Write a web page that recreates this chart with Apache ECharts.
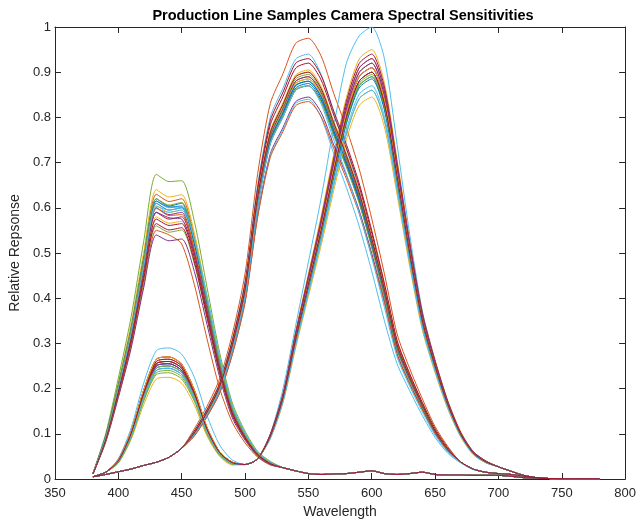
<!DOCTYPE html>
<html>
<head>
<meta charset="utf-8">
<script src="https://cdn.jsdelivr.net/npm/echarts@6/dist/echarts.min.js"></script>
<style>html,body{margin:0;padding:0;background:#fff}#c{width:639px;height:524px}</style>
</head>
<body>
<div id="c"></div>
<script>
const wavelengths = [380,390,400,410,420,430,440,450,460,470,480,490,500,510,520,530,540,550,560,570,580,590,600,610,620,630,640,650,660,670,680,690,700,710,720,730,740,750,760,770,780];
const xTicks = {min:350, max:800, step:50};
const yTicks = {min:0, max:1, step:0.1};

// Red channel curves (one per sample)
const R01 = [.005,.015,.039,.098,.186,.25,.255,.24,.186,.108,.057,.035,.032,.045,.094,.178,.307,.425,.544,.672,.791,.87,.89,.821,.663,.494,.346,.247,.163,.099,.057,.038,.027,.017,.008,.003,.001,0,0,0,0];
const R02 = [.005,.015,.041,.102,.194,.26,.265,.25,.194,.112,.059,.037,.032,.045,.097,.184,.317,.44,.562,.695,.818,.899,.92,.848,.685,.511,.358,.256,.169,.102,.059,.039,.027,.017,.008,.003,.001,0,0,0,0];
const R03 = [.005,.015,.035,.087,.164,.221,.225,.212,.164,.095,.05,.031,.032,.045,.1,.19,.327,.454,.581,.718,.844,.929,.95,.876,.707,.528,.37,.264,.174,.106,.061,.04,.027,.017,.008,.003,.001,0,0,0,0];
const R04 = [.005,.015,.039,.098,.186,.25,.255,.24,.186,.108,.057,.035,.032,.045,.096,.182,.313,.435,.556,.688,.809,.89,.91,.839,.677,.506,.354,.253,.167,.101,.059,.038,.027,.017,.008,.003,.001,0,0,0,0];
const R05 = [.005,.015,.036,.09,.172,.231,.235,.221,.172,.099,.052,.033,.032,.045,.091,.172,.296,.411,.526,.65,.764,.841,.86,.793,.64,.478,.334,.239,.158,.096,.055,.036,.027,.017,.008,.003,.001,0,0,0,0];
const R06 = [.005,.015,.045,.112,.212,.284,.29,.276,.225,.14,.075,.042,.032,.045,.1,.2,.34,.48,.62,.78,.92,.98,1.0,.93,.74,.54,.37,.26,.17,.1,.058,.038,.027,.017,.008,.003,.001,0,0,0,0];
const R07 = [.005,.015,.041,.102,.194,.26,.265,.25,.194,.112,.059,.037,.032,.045,.099,.188,.324,.449,.574,.71,.836,.919,.94,.867,.7,.522,.366,.261,.172,.104,.061,.04,.027,.017,.008,.003,.001,0,0,0,0];
const R08 = [.005,.015,.038,.094,.179,.24,.245,.231,.179,.104,.055,.034,.032,.045,.095,.18,.31,.43,.55,.68,.8,.88,.9,.83,.67,.5,.35,.25,.165,.1,.058,.038,.027,.017,.008,.003,.001,0,0,0,0];
const R09 = [.005,.015,.042,.104,.197,.265,.27,.254,.197,.114,.06,.037,.032,.045,.098,.186,.32,.444,.568,.703,.827,.909,.93,.858,.692,.517,.362,.258,.17,.103,.06,.039,.027,.017,.008,.003,.001,0,0,0,0];
const R10 = [.005,.015,.04,.1,.19,.255,.26,.245,.19,.11,.058,.036,.032,.045,.089,.169,.291,.404,.516,.638,.751,.826,.845,.779,.629,.47,.329,.235,.155,.094,.054,.036,.027,.017,.008,.003,.001,0,0,0,0];
const R11 = [.005,.015,.038,.096,.183,.245,.25,.236,.183,.106,.056,.035,.032,.045,.097,.184,.317,.44,.562,.695,.818,.899,.92,.848,.685,.511,.358,.256,.169,.102,.059,.039,.027,.017,.008,.003,.001,0,0,0,0];
const R12 = [.005,.015,.037,.092,.175,.235,.24,.226,.175,.102,.054,.033,.032,.045,.094,.178,.307,.425,.544,.672,.791,.87,.89,.821,.663,.494,.346,.247,.163,.099,.057,.038,.027,.017,.008,.003,.001,0,0,0,0];
const R13 = [.005,.015,.038,.096,.183,.245,.25,.236,.183,.106,.056,.035,.032,.045,.092,.174,.3,.416,.532,.657,.773,.851,.87,.802,.648,.483,.338,.242,.16,.097,.056,.037,.027,.017,.008,.003,.001,0,0,0,0];
const R14 = [.005,.015,.042,.104,.197,.265,.27,.254,.197,.114,.06,.037,.032,.045,.096,.182,.313,.435,.556,.688,.809,.89,.91,.839,.677,.506,.354,.253,.167,.101,.059,.038,.027,.017,.008,.003,.001,0,0,0,0];
const R15 = [.005,.015,.04,.1,.19,.255,.26,.245,.19,.11,.058,.036,.032,.045,.093,.177,.305,.423,.541,.668,.786,.865,.885,.816,.659,.492,.344,.246,.162,.098,.057,.037,.027,.017,.008,.003,.001,0,0,0,0];
const R16 = [.005,.015,.04,.1,.19,.255,.26,.245,.19,.11,.058,.036,.032,.045,.095,.18,.31,.43,.55,.68,.8,.88,.9,.83,.67,.5,.35,.25,.165,.1,.058,.038,.027,.017,.008,.003,.001,0,0,0,0];
const R17 = [.005,.015,.042,.104,.197,.265,.27,.254,.197,.114,.06,.037,.032,.045,.096,.182,.313,.435,.556,.688,.809,.89,.91,.839,.677,.506,.354,.253,.167,.101,.059,.038,.027,.017,.008,.003,.001,0,0,0,0];
const R18 = [.005,.015,.039,.098,.186,.25,.255,.24,.186,.108,.057,.035,.032,.045,.098,.186,.32,.444,.568,.703,.827,.909,.93,.858,.692,.517,.362,.258,.17,.103,.06,.039,.027,.017,.008,.003,.001,0,0,0,0];
const R19 = [.005,.015,.038,.096,.183,.245,.25,.236,.183,.106,.056,.035,.032,.045,.094,.179,.308,.428,.547,.676,.795,.875,.895,.825,.666,.497,.348,.249,.164,.099,.058,.038,.027,.017,.008,.003,.001,0,0,0,0];
const R20 = [.005,.015,.038,.094,.179,.24,.245,.231,.179,.104,.055,.034,.032,.045,.091,.172,.296,.411,.526,.65,.764,.841,.86,.793,.64,.478,.334,.239,.158,.096,.055,.036,.027,.017,.008,.003,.001,0,0,0,0];
const R21 = [.005,.015,.04,.1,.19,.255,.26,.245,.19,.11,.058,.036,.032,.045,.095,.18,.31,.43,.55,.68,.8,.88,.9,.83,.67,.5,.35,.25,.165,.1,.058,.038,.027,.017,.008,.003,.001,0,0,0,0];

// Green channel curves
const G01 = [.005,.01,.016,.022,.03,.037,.048,.068,.1,.145,.2,.29,.41,.61,.75,.81,.87,.88,.845,.77,.7,.62,.52,.41,.29,.22,.16,.105,.065,.038,.022,.015,.012,.01,.006,.003,.001,0,0,0,0];
const G02 = [.005,.01,.016,.022,.03,.037,.048,.068,.111,.161,.222,.321,.454,.676,.831,.897,.964,.975,.936,.853,.776,.687,.576,.454,.321,.244,.177,.116,.072,.038,.022,.015,.012,.01,.006,.003,.001,0,0,0,0];
const G03 = [.005,.01,.016,.022,.03,.037,.048,.068,.102,.148,.205,.297,.419,.624,.767,.829,.89,.9,.864,.788,.716,.634,.532,.419,.297,.225,.164,.107,.066,.038,.022,.015,.012,.01,.006,.003,.001,0,0,0,0];
const G04 = [.005,.01,.016,.022,.03,.037,.048,.068,.099,.143,.198,.287,.405,.603,.742,.801,.86,.87,.836,.762,.692,.613,.514,.405,.287,.218,.158,.104,.064,.038,.022,.015,.012,.01,.006,.003,.001,0,0,0,0];
const G05 = [.005,.01,.016,.022,.03,.037,.048,.068,.101,.146,.201,.292,.412,.614,.755,.815,.875,.885,.85,.775,.704,.624,.523,.412,.292,.221,.161,.106,.065,.038,.022,.015,.012,.01,.006,.003,.001,0,0,0,0];
const G06 = [.005,.01,.016,.022,.03,.037,.048,.068,.107,.155,.214,.31,.438,.651,.801,.865,.929,.94,.895,.81,.73,.64,.53,.41,.295,.224,.163,.107,.066,.038,.022,.015,.012,.01,.006,.003,.001,0,0,0,0];
const G07 = [.005,.01,.016,.022,.03,.037,.048,.068,.105,.152,.209,.303,.428,.637,.784,.846,.909,.92,.883,.805,.732,.648,.543,.428,.303,.23,.167,.11,.068,.038,.022,.015,.012,.01,.006,.003,.001,0,0,0,0];
const G08 = [.005,.01,.016,.022,.03,.037,.048,.068,.099,.144,.199,.288,.408,.606,.746,.805,.865,.875,.84,.765,.696,.616,.517,.408,.288,.219,.159,.104,.065,.038,.022,.015,.012,.01,.006,.003,.001,0,0,0,0];
const G09 = [.005,.01,.016,.022,.03,.037,.048,.068,.101,.147,.202,.293,.415,.617,.758,.819,.88,.89,.854,.778,.708,.627,.526,.415,.293,.222,.162,.106,.066,.038,.022,.015,.012,.01,.006,.003,.001,0,0,0,0];
const G10 = [.005,.01,.016,.022,.03,.037,.048,.068,.1,.145,.2,.29,.41,.612,.755,.818,.876,.885,.852,.778,.706,.626,.525,.414,.293,.222,.161,.106,.065,.038,.022,.015,.012,.01,.006,.003,.001,0,0,0,0];
const G11 = [.005,.01,.016,.022,.03,.037,.048,.068,.096,.139,.192,.278,.394,.586,.72,.778,.835,.845,.811,.739,.672,.595,.499,.394,.278,.211,.154,.101,.062,.038,.022,.015,.012,.01,.006,.003,.001,0,0,0,0];
const G12 = [.005,.01,.016,.022,.03,.037,.048,.068,.099,.144,.199,.288,.406,.604,.744,.803,.862,.87,.835,.76,.69,.611,.512,.403,.286,.217,.158,.104,.064,.038,.022,.015,.012,.01,.006,.003,.001,0,0,0,0];
const G13 = [.005,.01,.016,.022,.03,.037,.048,.068,.096,.138,.191,.277,.392,.583,.716,.774,.831,.84,.8,.72,.645,.56,.46,.35,.255,.195,.14,.092,.057,.036,.021,.015,.012,.01,.006,.003,.001,0,0,0,0];
const G14 = [.005,.01,.016,.022,.03,.037,.048,.068,.106,.153,.211,.307,.433,.645,.793,.856,.92,.93,.893,.814,.74,.655,.55,.433,.307,.233,.169,.111,.069,.038,.022,.015,.012,.01,.006,.003,.001,0,0,0,0];
const G15 = [.005,.01,.016,.022,.03,.037,.048,.068,.1,.146,.201,.291,.411,.611,.751,.811,.871,.88,.846,.771,.701,.621,.521,.411,.291,.221,.161,.105,.065,.038,.022,.015,.012,.01,.006,.003,.001,0,0,0,0];
const G16 = [.005,.01,.016,.022,.03,.037,.048,.068,.095,.138,.19,.275,.389,.579,.712,.769,.826,.835,.802,.731,.664,.588,.493,.389,.275,.209,.152,.1,.062,.038,.022,.015,.012,.01,.006,.003,.001,0,0,0,0];
const G17 = [.005,.01,.016,.022,.03,.037,.048,.068,.103,.149,.206,.298,.421,.627,.771,.833,.894,.905,.869,.792,.72,.637,.535,.421,.298,.226,.164,.108,.067,.038,.022,.015,.012,.01,.006,.003,.001,0,0,0,0];
const G18 = [.005,.01,.016,.022,.03,.037,.048,.068,.101,.146,.203,.294,.414,.618,.759,.82,.88,.89,.856,.78,.709,.628,.527,.416,.294,.223,.162,.106,.066,.038,.022,.015,.012,.01,.006,.003,.001,0,0,0,0];
const G19 = [.005,.01,.016,.022,.03,.037,.048,.068,.102,.147,.203,.295,.417,.62,.763,.824,.885,.895,.859,.783,.712,.631,.529,.417,.295,.224,.163,.107,.066,.038,.022,.015,.012,.01,.006,.003,.001,0,0,0,0];
const G20 = [.005,.01,.016,.022,.03,.037,.048,.068,.099,.143,.198,.287,.405,.603,.742,.801,.86,.87,.83,.75,.675,.59,.49,.38,.27,.205,.148,.097,.06,.037,.022,.015,.012,.01,.006,.003,.001,0,0,0,0];
const G21 = [.005,.01,.016,.022,.03,.037,.048,.068,.102,.148,.205,.297,.419,.624,.767,.829,.89,.9,.864,.788,.716,.634,.532,.419,.297,.225,.164,.107,.066,.038,.022,.015,.012,.01,.006,.003,.001,0,0,0,0];

// Blue channel curves
const B01 = [.012,.092,.203,.325,.478,.61,.595,.6,.519,.386,.254,.152,.097,.056,.036,.025,.018,.012,.01,.011,.012,.015,.018,.012,.01,.012,.015,.01,.009,.009,.008,.008,.008,.006,.003,.002,.001,0,0,0,0];
const B02 = [.013,.095,.21,.336,.494,.63,.614,.62,.536,.399,.263,.158,.1,.058,.037,.025,.018,.012,.01,.011,.012,.015,.018,.012,.01,.012,.015,.01,.009,.009,.008,.008,.008,.006,.003,.002,.001,0,0,0,0];
const B03 = [.013,.096,.213,.341,.501,.64,.624,.629,.544,.405,.267,.16,.101,.059,.037,.025,.018,.012,.01,.011,.012,.015,.018,.012,.01,.012,.015,.01,.009,.009,.008,.008,.008,.006,.003,.002,.001,0,0,0,0];
const B04 = [.012,.09,.2,.32,.47,.6,.585,.59,.51,.38,.25,.15,.095,.055,.035,.025,.018,.012,.01,.011,.012,.015,.018,.012,.01,.012,.015,.01,.009,.009,.008,.008,.008,.006,.003,.002,.001,0,0,0,0];
const B05 = [.013,.1,.223,.357,.525,.674,.658,.66,.57,.424,.279,.168,.106,.061,.039,.025,.018,.012,.01,.011,.012,.015,.018,.012,.01,.012,.015,.01,.009,.009,.008,.008,.008,.006,.003,.002,.001,0,0,0,0];
const B06 = [.012,.092,.205,.328,.482,.615,.6,.605,.523,.39,.256,.154,.097,.056,.036,.025,.018,.012,.01,.011,.012,.015,.018,.012,.01,.012,.015,.01,.009,.009,.008,.008,.008,.006,.003,.002,.001,0,0,0,0];
const B07 = [.012,.089,.197,.315,.462,.59,.575,.58,.501,.374,.246,.148,.093,.054,.034,.025,.018,.012,.01,.011,.012,.015,.018,.012,.01,.012,.015,.01,.009,.009,.008,.008,.008,.006,.003,.002,.001,0,0,0,0];
const B08 = [.012,.093,.207,.331,.486,.62,.604,.61,.527,.393,.258,.155,.098,.057,.036,.025,.018,.012,.01,.011,.012,.015,.018,.012,.01,.012,.015,.01,.009,.009,.008,.008,.008,.006,.003,.002,.001,0,0,0,0];
const B09 = [.011,.083,.183,.293,.431,.55,.54,.52,.43,.31,.2,.125,.08,.048,.031,.025,.018,.012,.01,.011,.012,.015,.018,.012,.01,.012,.015,.01,.009,.009,.008,.008,.008,.006,.003,.002,.001,0,0,0,0];
const B10 = [.012,.091,.202,.323,.474,.605,.59,.595,.514,.383,.252,.151,.096,.055,.035,.025,.018,.012,.01,.011,.012,.015,.018,.012,.01,.012,.015,.01,.009,.009,.008,.008,.008,.006,.003,.002,.001,0,0,0,0];
const B11 = [.011,.081,.18,.288,.423,.54,.527,.531,.459,.342,.225,.135,.086,.05,.032,.025,.018,.012,.01,.011,.012,.015,.018,.012,.01,.012,.015,.01,.009,.009,.008,.008,.008,.006,.003,.002,.001,0,0,0,0];
const B12 = [.011,.084,.187,.299,.439,.56,.546,.551,.476,.355,.233,.14,.089,.051,.033,.025,.018,.012,.01,.011,.012,.015,.018,.012,.01,.012,.015,.01,.009,.009,.008,.008,.008,.006,.003,.002,.001,0,0,0,0];
const B13 = [.012,.088,.196,.316,.465,.598,.59,.595,.525,.4,.265,.16,.1,.058,.036,.025,.018,.012,.01,.011,.012,.015,.018,.012,.01,.012,.015,.01,.009,.009,.008,.008,.008,.006,.003,.002,.001,0,0,0,0];
const B14 = [.011,.085,.188,.301,.443,.565,.551,.556,.48,.358,.235,.141,.089,.052,.033,.025,.018,.012,.01,.011,.012,.015,.018,.012,.01,.012,.015,.01,.009,.009,.008,.008,.008,.006,.003,.002,.001,0,0,0,0];
const B15 = [.012,.094,.207,.33,.485,.615,.602,.602,.52,.386,.254,.152,.096,.056,.036,.025,.018,.012,.01,.011,.012,.015,.018,.012,.01,.012,.015,.01,.009,.009,.008,.008,.008,.006,.003,.002,.001,0,0,0,0];
const B16 = [.012,.091,.202,.322,.472,.6,.583,.585,.505,.376,.248,.149,.095,.055,.035,.025,.018,.012,.01,.011,.012,.015,.018,.012,.01,.012,.015,.01,.009,.009,.008,.008,.008,.006,.003,.002,.001,0,0,0,0];
const B17 = [.012,.087,.193,.309,.454,.58,.566,.57,.493,.367,.242,.145,.092,.053,.034,.025,.018,.012,.01,.011,.012,.015,.018,.012,.01,.012,.015,.01,.009,.009,.008,.008,.008,.006,.003,.002,.001,0,0,0,0];
const B18 = [.012,.089,.197,.315,.462,.59,.578,.575,.498,.372,.245,.147,.093,.054,.034,.025,.018,.012,.01,.011,.012,.015,.018,.012,.01,.012,.015,.01,.009,.009,.008,.008,.008,.006,.003,.002,.001,0,0,0,0];
const B19 = [.012,.093,.207,.331,.486,.62,.606,.612,.53,.395,.26,.156,.098,.057,.036,.025,.018,.012,.01,.011,.012,.015,.018,.012,.01,.012,.015,.01,.009,.009,.008,.008,.008,.006,.003,.002,.001,0,0,0,0];
const B20 = [.012,.089,.199,.32,.47,.603,.595,.6,.53,.405,.27,.163,.102,.059,.037,.025,.018,.012,.01,.011,.012,.015,.018,.012,.01,.012,.015,.01,.009,.009,.008,.008,.008,.006,.003,.002,.001,0,0,0,0];
const B21 = [.011,.086,.192,.307,.45,.575,.561,.565,.489,.364,.24,.144,.091,.053,.034,.025,.018,.012,.01,.011,.012,.015,.018,.012,.01,.012,.015,.01,.009,.009,.008,.008,.008,.006,.003,.002,.001,0,0,0,0];

const redSet = [R01,R02,R03,R04,R05,R06,R07,R08,R09,R10,R11,R12,R13,R14,R15,R16,R17,R18,R19,R20,R21];
const greenSet = [G01,G02,G03,G04,G05,G06,G07,G08,G09,G10,G11,G12,G13,G14,G15,G16,G17,G18,G19,G20,G21];
const blueSet = [B01,B02,B03,B04,B05,B06,B07,B08,B09,B10,B11,B12,B13,B14,B15,B16,B17,B18,B19,B20,B21];

const palette = ['#0072BD','#D95319','#EDB120','#7E2F8E','#77AC30','#4DBEEE','#A2142F'];
const FONT = '"Liberation Sans", Arial, Helvetica, sans-serif';
const AX = '#262626';

function mkSeries(arr, i, tag) {
  const c = palette[i % 7];
  return {
    type: 'line', name: tag + (i + 1),
    data: wavelengths.map((w, k) => [w, arr[k]]),
    showSymbol: false, symbol: 'none', silent: true,
    smooth: 0.25,
    lineStyle: { width: 1, color: c }, itemStyle: { color: c },
    emphasis: { disabled: true }
  };
}
const series = [];
for (let i = 0; i < redSet.length; i++) {
  series.push(mkSeries(redSet[i], i, 'R'));
  series.push(mkSeries(greenSet[i], i, 'G'));
  series.push(mkSeries(blueSet[i], i, 'B'));
}

function axisBase(min, max, step) {
  return {
    type: 'value', min: min, max: max, interval: step,
    axisLine: { show: true, onZero: false, lineStyle: { color: AX, width: 1 } },
    axisTick: { show: true, inside: true, length: 6, lineStyle: { color: AX, width: 1 } },
    splitLine: { show: false }
  };
}

const chart = echarts.init(document.getElementById('c'), null, { renderer: 'canvas' });
chart.setOption({
  animation: false,
  backgroundColor: '#ffffff',
  title: {
    text: 'Production Line Samples Camera Spectral Sensitivities',
    left: 338, top: 3, textAlign: 'center',
    textStyle: { fontFamily: FONT, fontSize: 14.5, fontWeight: 'bold', color: '#000' }
  },
  grid: { left: 52, right: 11, top: 27, bottom: 41, containLabel: false },
  xAxis: [
    Object.assign(axisBase(xTicks.min, xTicks.max, xTicks.step), {
      position: 'bottom',
      name: 'Wavelength', nameLocation: 'middle', nameGap: 26,
      nameTextStyle: { fontFamily: FONT, fontSize: 14, color: AX },
      axisLabel: { show: true, fontFamily: FONT, fontSize: 13, color: AX, margin: 8, showMinLabel: true, showMaxLabel: true }
    }),
    Object.assign(axisBase(xTicks.min, xTicks.max, xTicks.step), {
      position: 'top', axisLabel: { show: false }
    })
  ],
  yAxis: [
    Object.assign(axisBase(yTicks.min, yTicks.max, yTicks.step), {
      position: 'left',
      name: 'Relative Repsonse', nameLocation: 'middle', nameGap: 30,
      nameTextStyle: { fontFamily: FONT, fontSize: 14, color: AX },
      axisLabel: { show: true, fontFamily: FONT, fontSize: 13, color: AX, margin: 4, showMinLabel: true, showMaxLabel: true,
        formatter: function (v) { return String(Math.round(v * 10) / 10); } }
    }),
    Object.assign(axisBase(yTicks.min, yTicks.max, yTicks.step), {
      position: 'right', axisLabel: { show: false }
    })
  ],
  series: series
});
</script>
</body>
</html>
